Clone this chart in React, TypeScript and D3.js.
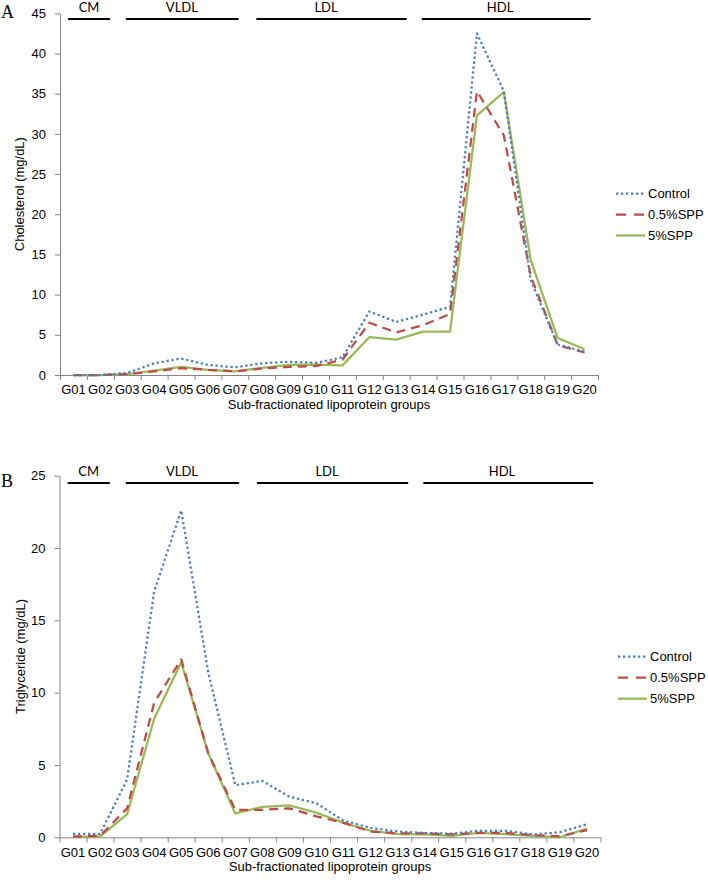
import React, { useEffect, useRef } from "react";
import * as d3 from "d3";

// categories
const categories = [
  "G01", "G02", "G03", "G04", "G05", "G06", "G07", "G08", "G09", "G10",
  "G11", "G12", "G13", "G14", "G15", "G16", "G17", "G18", "G19", "G20",
];

const seriesNames = ["Control", "0.5%SPP", "5%SPP"];

// Panel A: cholesterol (mg/dL)
const cholControl = [0, 0, 0.25, 1.45, 2.05, 1.25, 0.95, 1.45, 1.65, 1.5, 2.2, 7.9, 6.6, 7.5, 8.5, 42.5, 35.3, 11.8, 3.8, 2.9];
const chol05 = [0, 0, 0.1, 0.45, 0.85, 0.65, 0.45, 0.8, 1.0, 1.1, 1.9, 6.5, 5.3, 6.2, 7.6, 35.3, 29.8, 12.3, 3.7, 2.8];
const chol5 = [0, 0, 0.1, 0.55, 1.0, 0.65, 0.45, 0.9, 1.25, 1.3, 1.2, 4.7, 4.4, 5.4, 5.4, 32.3, 35.2, 14.3, 4.6, 3.2];
const cholTicks = [0, 5, 10, 15, 20, 25, 30, 35, 40, 45];

// Panel B: triglyceride (mg/dL)
const tgControl = [0.23, 0.23, 4.0, 17.0, 22.6, 11.4, 3.6, 3.9, 2.8, 2.35, 1.15, 0.65, 0.4, 0.3, 0.25, 0.45, 0.45, 0.2, 0.35, 0.9];
const tg05 = [0.05, 0.1, 2.0, 9.3, 12.3, 5.8, 1.9, 1.9, 2.0, 1.45, 1.0, 0.4, 0.28, 0.28, 0.2, 0.3, 0.3, 0.15, 0.07, 0.5];
const tg5 = [0.05, 0.05, 1.6, 8.2, 12.1, 5.8, 1.65, 2.1, 2.2, 1.7, 1.0, 0.45, 0.22, 0.2, 0.1, 0.3, 0.22, 0.1, 0.0, 0.6];
const tgTicks = [0, 5, 10, 15, 20, 25];

// lipoprotein class bars (in category-index units)
const groupNames = ["CM", "VLDL", "LDL", "HDL"];
const groupStart = [0.3, 2.45, 7.3, 13.45];
const groupEnd = [1.86, 6.64, 12.89, 19.73];
const groupLabelAt = [1.08, 4.53, 9.89, 16.36];

const colors = ["#4a7ebb", "#be4b48", "#98b954"];
const dashes = ["2.3 2.7", "9 6", null];

const font = "'Liberation Sans', Arial, sans-serif";
const fontSize = "13px";

interface PanelSpec {
  letter: string;
  letterY: number;
  yLabel: string;
  yLabelX: number;
  ticks: number[];
  values: number[][];
  top: number;
  bottom: number;
  left: number;
  right: number;
  groupY: number;
  legendY: number;
  legendX: number;
}

const panels: PanelSpec[] = [
  {
    letter: "A",
    letterY: 18,
    yLabel: "Cholesterol (mg/dL)",
    yLabelX: 24,
    ticks: cholTicks,
    values: [cholControl, chol05, chol5],
    top: 13.3,
    bottom: 375,
    left: 60,
    right: 598,
    groupY: 19,
    legendY: 193.5,
    legendX: 616,
  },
  {
    letter: "B",
    letterY: 487,
    yLabel: "Triglyceride (mg/dL)",
    yLabelX: 25,
    ticks: tgTicks,
    values: [tgControl, tg05, tg5],
    top: 475.7,
    bottom: 837.3,
    left: 59.5,
    right: 600.5,
    groupY: 483,
    legendY: 656.7,
    legendX: 618,
  },
];

function drawPanel(g: d3.Selection<SVGGElement, unknown, null, undefined>, p: PanelSpec) {
  const yMax = p.ticks[p.ticks.length - 1];
  const x = d3.scaleBand().domain(categories).range([p.left, p.right]).padding(0);
  const idx = d3.scaleLinear().domain([0, categories.length]).range([p.left, p.right]);
  const y = d3.scaleLinear().domain([0, yMax]).range([p.bottom, p.top]);

  // Panel letter
  g.append("text")
    .attr("x", 1)
    .attr("y", p.letterY)
    .style("font-family", "'Liberation Serif', 'Times New Roman', serif")
    .style("font-size", "18px")
    .text(p.letter);

  // Y axis
  const yAxis = g
    .append("g")
    .attr("transform", `translate(${p.left},0)`)
    .call(d3.axisLeft(y).tickValues(p.ticks).tickSize(5).tickSizeOuter(0).tickPadding(9));
  yAxis.selectAll("path, line").attr("stroke", "#868686");
  yAxis.selectAll("text").style("font-family", font).style("font-size", fontSize).attr("fill", "#000");

  // X axis: boundary ticks
  const xTicks = g
    .append("g")
    .attr("transform", `translate(0,${p.bottom})`)
    .call(
      d3
        .axisBottom(idx)
        .tickValues(d3.range(categories.length + 1))
        .tickFormat(() => "")
        .tickSize(5)
        .tickSizeOuter(0),
    );
  xTicks.selectAll("path, line").attr("stroke", "#868686");

  // X axis: category labels
  const xLabels = g
    .append("g")
    .attr("transform", `translate(0,${p.bottom})`)
    .call(d3.axisBottom(x).tickSize(0).tickPadding(10));
  xLabels.select(".domain").remove();
  xLabels.selectAll("text").style("font-family", font).style("font-size", fontSize).attr("fill", "#000");

  // Axis titles
  g.append("text")
    .attr("x", (p.left + p.right) / 2)
    .attr("y", p.bottom + 33.5)
    .attr("text-anchor", "middle")
    .style("font-family", font)
    .style("font-size", fontSize)
    .text("Sub-fractionated lipoprotein groups");

  g.append("text")
    .attr("transform", `translate(${p.yLabelX},${(p.top + p.bottom) / 2}) rotate(-90)`)
    .attr("text-anchor", "middle")
    .style("font-family", font)
    .style("font-size", fontSize)
    .text(p.yLabel);

  // Lipoprotein class bars
  groupNames.forEach((name, i) => {
    g.append("line")
      .attr("x1", idx(groupStart[i]))
      .attr("x2", idx(groupEnd[i]))
      .attr("y1", p.groupY)
      .attr("y2", p.groupY)
      .attr("stroke", "#000")
      .attr("stroke-width", 1.8);
    g.append("text")
      .attr("x", idx(groupLabelAt[i]))
      .attr("y", p.groupY - 7)
      .attr("text-anchor", "middle")
      .style("font-family", "Lato, 'Open Sans', sans-serif")
      .style("font-size", "13px")
      .text(name);
  });

  // Series lines
  const line = d3
    .line<number>()
    .x((_, i) => (x(categories[i]) ?? 0) + x.bandwidth() / 2)
    .y((d) => y(d));

  [2, 1, 0].forEach((s) => {
    g.append("path")
      .datum(p.values[s])
      .attr("d", line)
      .attr("fill", "none")
      .attr("stroke", colors[s])
      .attr("stroke-width", 2.25)
      .attr("stroke-linejoin", "round")
      .attr("stroke-dasharray", dashes[s]);
  });

  // Legend
  seriesNames.forEach((name, i) => {
    const ly = p.legendY + i * 21;
    g.append("line")
      .attr("x1", p.legendX)
      .attr("x2", p.legendX + 29)
      .attr("y1", ly)
      .attr("y2", ly)
      .attr("stroke", colors[i])
      .attr("stroke-width", 2.25)
      .attr("stroke-dasharray", i === 1 ? "10 8" : dashes[i]);
    g.append("text")
      .attr("x", p.legendX + 32)
      .attr("y", ly + 4.5)
      .style("font-family", font)
      .style("font-size", fontSize)
      .text(name);
  });
}

export default function App() {
  const ref = useRef<SVGSVGElement | null>(null);

  useEffect(() => {
    const svg = d3.select(ref.current);
    svg.selectAll("*").remove();
    panels.forEach((p) => drawPanel(svg.append("g"), p));
  }, []);

  return (
    <svg
      ref={ref}
      width={708}
      height={881}
      style={{ position: "absolute", left: 0, top: 0, background: "#fff" }}
    ></svg>
  );
}
